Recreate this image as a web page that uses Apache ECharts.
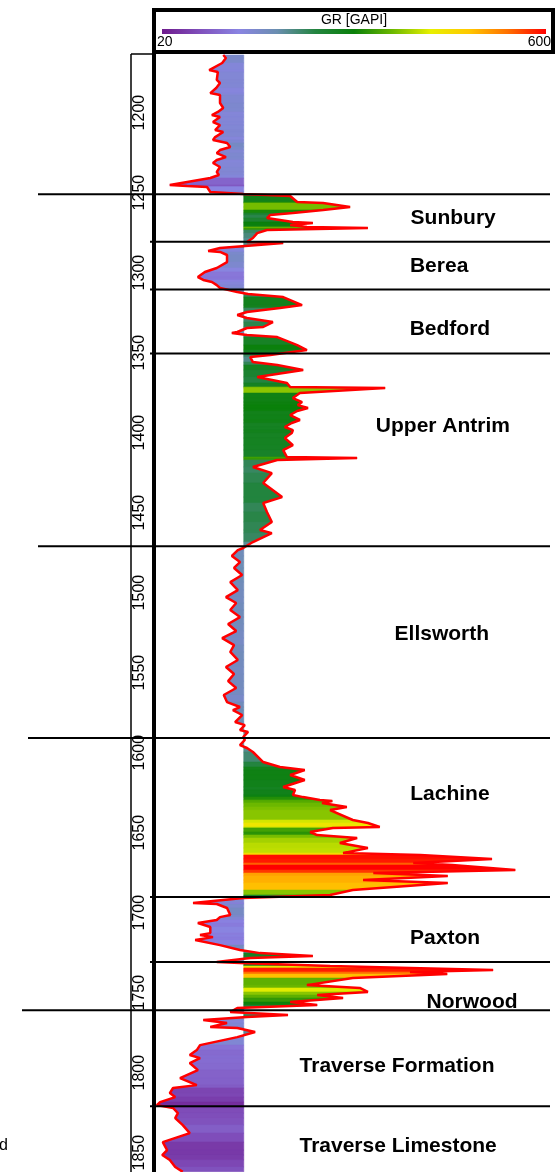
<!DOCTYPE html>
<html>
<head>
<meta charset="utf-8">
<script src="https://cdn.jsdelivr.net/npm/echarts@6/dist/echarts.min.js"></script>
<style>
html,body{margin:0;padding:0;background:#fff}
#chart{width:556px;height:1172px}
</style>
</head>
<body>
<div id="chart"></div>
<script>
// GR log (depth in ft, GR in GAPI)
var grDepth = [1164,1165.9,1169,1173.4,1174.6,1179.6,1181.5,1184.6,1187.8,1189,1194,1197.1,1199.6,1201.5,1202.8,1205.9,1207.8,1210.9,1212.1,1215.3,1217.1,1219,1221.5,1223.4,1225.3,1227.8,1229.6,1231.5,1234,1237.1,1239,1240.9,1245.3,1245.9,1246.5,1249.6,1250.9,
  1251.5,1252.1,1255.9,1256.5,1259,1260.9,1262.8,1264,1265.9,1268.4,1269,1270.3,1271.5,1272.1,1273.4,1275.3,1278.4,1280.9,
  1281.5,1284.6,1286.5,1287.1,1289,1293.4,1297.1,1299.6,1302.8,1304.6,1305.9,1307.8,1309.6,1312.1,1313.4,
  1315.3,1320.3,1322.1,1324.6,1326.5,1328.4,1330.9,1334,1334.6,1337.1,1337.8,1339,1340.3,1345.3,1348.4,
  1351.5,1352.8,1355.9,1357.8,1360.9,1365.3,1369,1371.5,1372.1,1375.3,1378.4,1380.9,1382.8,1384.6,1386.5,1389,1392.1,1394,1396.5,1398.4,1400.3,1403.4,1407.8,1410.9,1415.3,1415.9,1417.1,1421.5,1425.3,1431.5,1440.3,1444,1449.6,1455.9,1460.9,1462.8,1468.4,1472.1,
  1473.4,1477.1,1480.9,1484.6,1489,1493.4,1498.4,1502.8,1506.5,1510.9,1515.3,1519.6,1524,1528.4,1532.8,1537.1,1542.1,1546.5,1550.9,1555.3,1559.6,1564,1568.4,1571.5,1573.4,1576.5,1580.9,1582.8,1585.9,1587.1,1590.3,
  1592.1,1595.3,1597.1,1599.6,1605.9,1609,1610.9,1614,1617.1,1621.5,1623.4,1626.5,1627.8,1629.6,1630.3,1631.5,1634,1635.9,1642.1,1644,1646.5,1647.1,1649.6,1651.5,1653.4,1656.5,1659.6,1662.8,1664,1666.5,1669,1670.3,1673.4,1675.3,1677.1,1679.6,1681.5,1685.9,1689,1690.9,
  1694,1694.6,1697.1,1701.5,1702.8,1704.6,1706.5,1709,1712.8,1714,1715.3,1717.1,1720.3,1723.4,1725.3,1727.1,1728.4,1730.9,1731.5,
  1733.4,1734.6,1735.9,1737.1,1738.4,1740.9,1745.3,1747.1,1749.6,1751.5,1753.4,1755.9,1757.8,1759.6,
  1762.1,1764,1765.3,1767.1,1769,1771.5,1772.1,1774.6,1777.8,1782.8,1785.9,1789,1790.9,1794,1798.4,1803.4,1807.8,1809.6,1812.8,1815.3,1818.4,1820.3,
  1822.1,1825.3,1828.4,1832.8,1837.8,1843.4,1848.4,1851.5,1854.6,1859,1862]
var grValue = [162,167,160,136,152,150,156,149,138,156,156,162,152,141,156,143,156,147,162,147,143,169,175,156,150,167,150,143,156,150,154,138,63,95,132,138,199,
  202,286,299,347,397,347,291,249,243,291,328,286,317,430,243,225,217,206,
  273,156,134,156,169,169,150,128,115,125,141,150,156,188,208,
  273,308,267,206,188,206,254,236,206,188,178,206,262,299,317,
  249,212,217,262,310,225,280,286,462,304,291,308,300,319,299,286,304,289,276,291,289,276,291,273,280,410,262,217,252,236,271,236,243,252,230,252,217,199,
  189,178,193,182,197,175,189,167,186,175,193,171,186,160,182,175,189,167,182,171,186,163,169,193,180,197,184,202,193,208,199,
  202,193,206,217,236,267,313,286,313,273,295,291,310,341,364,345,391,360,402,430,452,365,323,336,410,378,430,384,527,660,514,586,703,440,578,421,578,402,360,199,
  106,150,169,175,156,150,115,138,138,119,143,110,156,193,230,328,212,150,193,
  360,508,662,508,577,402,317,415,430,336,384,286,336,188,
  175,282,206,125,169,138,188,221,188,119,113,100,119,100,115,82,113,69,63,73,45,39,
  69,78,73,87,100,50,58,49,63,73,87]

var topNames = ['Sunbury','Berea','Bedford','Upper Antrim','Ellsworth','Lachine','Paxton','Norwood','Traverse Formation','Traverse Limestone']
var topDepth = [1251,1280.7,1310.5,1350.5,1471,1590.8,1690.3,1730.8,1761,1821]
var labelDepth = [1265.9,1295.9,1335.3,1395.9,1525.9,1625.9,1715.9,1755.9,1795.9,1845.9]
var labelGR = [588,562,582,569,567,582,573,623,484,486]
var depthTicks = [1200,1250,1300,1350,1400,1450,1500,1550,1600,1650,1700,1750,1800,1850]

var grMin = 20, grMax = 600
var cutoff = 200
var grColors = ['#6e1a8c','#8050bc','#8a84e2','#6a8eb0','#23843f','#0a800a','#6cb800','#e8f000','#ffc800','#ff7000','#ff0000']

// style only: where each top line starts on the left (px)
var topLineStart = [38,150,150,150,38,28,150,150,22,150]
var font = 'Liberation Sans, Arial, sans-serif'

var fillData = []
for (var i = 0; i < grDepth.length - 1; i++) {
  fillData.push([grDepth[i], grValue[i], grDepth[i+1], grValue[i+1], (grValue[i] + grValue[i+1]) / 2])
}
var curveData = grDepth.map(function (d, i) { return [grValue[i], d] })
var labelData = topNames.map(function (n, i) { return [labelGR[i], labelDepth[i]] })

function renderFill(params, api) {
  var d0 = api.value(0), g0 = api.value(1), d1 = api.value(2), g1 = api.value(3)
  var c = api.visual('color')
  return {
    type: 'polygon',
    shape: { points: [api.coord([cutoff, d0]), api.coord([g0, d0]), api.coord([g1, d1]), api.coord([cutoff, d1])] },
    style: { fill: c, stroke: c, lineWidth: 0.6 }
  }
}

function renderTop(params, api) {
  var y = api.coord([cutoff, api.value(0)])[1]
  return {
    type: 'line',
    shape: { x1: topLineStart[params.dataIndex], y1: y, x2: 550, y2: y },
    style: { stroke: '#000', lineWidth: 2 }
  }
}

function renderName(params, api) {
  var p = api.coord([api.value(0), api.value(1)])
  return {
    type: 'text', x: p[0], y: p[1],
    style: { text: topNames[params.dataIndex], fill: '#000', fontSize: 21, fontWeight: 'bold', fontFamily: font, align: 'center', verticalAlign: 'middle' }
  }
}

var chart = echarts.init(document.getElementById('chart'), null, { renderer: 'canvas' })

chart.setOption({
  animation: false,
  backgroundColor: '#fff',
  grid: { left: 152, right: 10, top: 55, bottom: 0, containLabel: false, outerBoundsMode: 'none' },
  xAxis: { type: 'value', min: 30, max: 760, show: false },
  yAxis: {
    type: 'value', inverse: true, min: 1164, max: 1862.1,
    axisLine: { show: false }, axisTick: { show: false }, splitLine: { show: false },
    axisLabel: {
      customValues: depthTicks, rotate: 90, margin: 4, fontSize: 16, color: '#000', fontFamily: font,
      formatter: function (v) { return String(v) }
    }
  },
  visualMap: {
    show: false, type: 'continuous', seriesIndex: 0, dimension: 4,
    min: grMin, max: grMax, inRange: { color: grColors }
  },
  series: [
    {
      type: 'custom', name: 'fill', renderItem: renderFill, data: fillData,
      encode: { x: [1, 3], y: [0, 2] }, z: 1, silent: true
    },
    {
      type: 'line', name: 'GR', data: curveData, symbol: 'none', z: 3, silent: true,
      lineStyle: { color: '#ff0000', width: 2.5 }
    },
    {
      type: 'custom', name: 'tops', renderItem: renderTop, clip: false,
      data: topDepth.map(function (d) { return [d] }), encode: { y: 0 }, z: 4, silent: true
    },
    {
      type: 'custom', name: 'names', renderItem: renderName, clip: false,
      data: labelData, encode: { x: 0, y: 1 }, z: 5, silent: true
    }
  ],
  graphic: [
    { type: 'rect', z: 100, shape: { x: 162, y: 29, width: 384, height: 5 },
      style: { fill: new echarts.graphic.LinearGradient(0, 0, 1, 0, grColors.map(function (c, i) { return { offset: i / (grColors.length - 1), color: c } })) } },
    { type: 'rect', z: 100, shape: { x: 154, y: 10, width: 399, height: 42 }, style: { fill: 'none', stroke: '#000', lineWidth: 4 } },
    { type: 'line', z: 100, shape: { x1: 154, y1: 10, x2: 154, y2: 1172 }, style: { stroke: '#000', lineWidth: 4 } },
    { type: 'line', z: 100, shape: { x1: 131, y1: 54, x2: 131, y2: 1172 }, style: { stroke: '#000', lineWidth: 1.5 } },
    { type: 'line', z: 100, shape: { x1: 131, y1: 54, x2: 154, y2: 54 }, style: { stroke: '#000', lineWidth: 1.5 } },
    { type: 'text', z: 100, x: 354, y: 20, style: { text: 'GR [GAPI]', fontSize: 14, fontFamily: font, fill: '#000', align: 'center', verticalAlign: 'middle' } },
    { type: 'text', z: 100, x: 157, y: 42, style: { text: String(grMin), fontSize: 14, fontFamily: font, fill: '#000', align: 'left', verticalAlign: 'middle' } },
    { type: 'text', z: 100, x: 551, y: 42, style: { text: String(grMax), fontSize: 14, fontFamily: font, fill: '#000', align: 'right', verticalAlign: 'middle' } },
    { type: 'text', z: 100, x: -1, y: 1146, style: { text: 'd', fontSize: 16, fontFamily: font, fill: '#000', align: 'left', verticalAlign: 'middle' } }
  ]
})
</script>
</body>
</html>
